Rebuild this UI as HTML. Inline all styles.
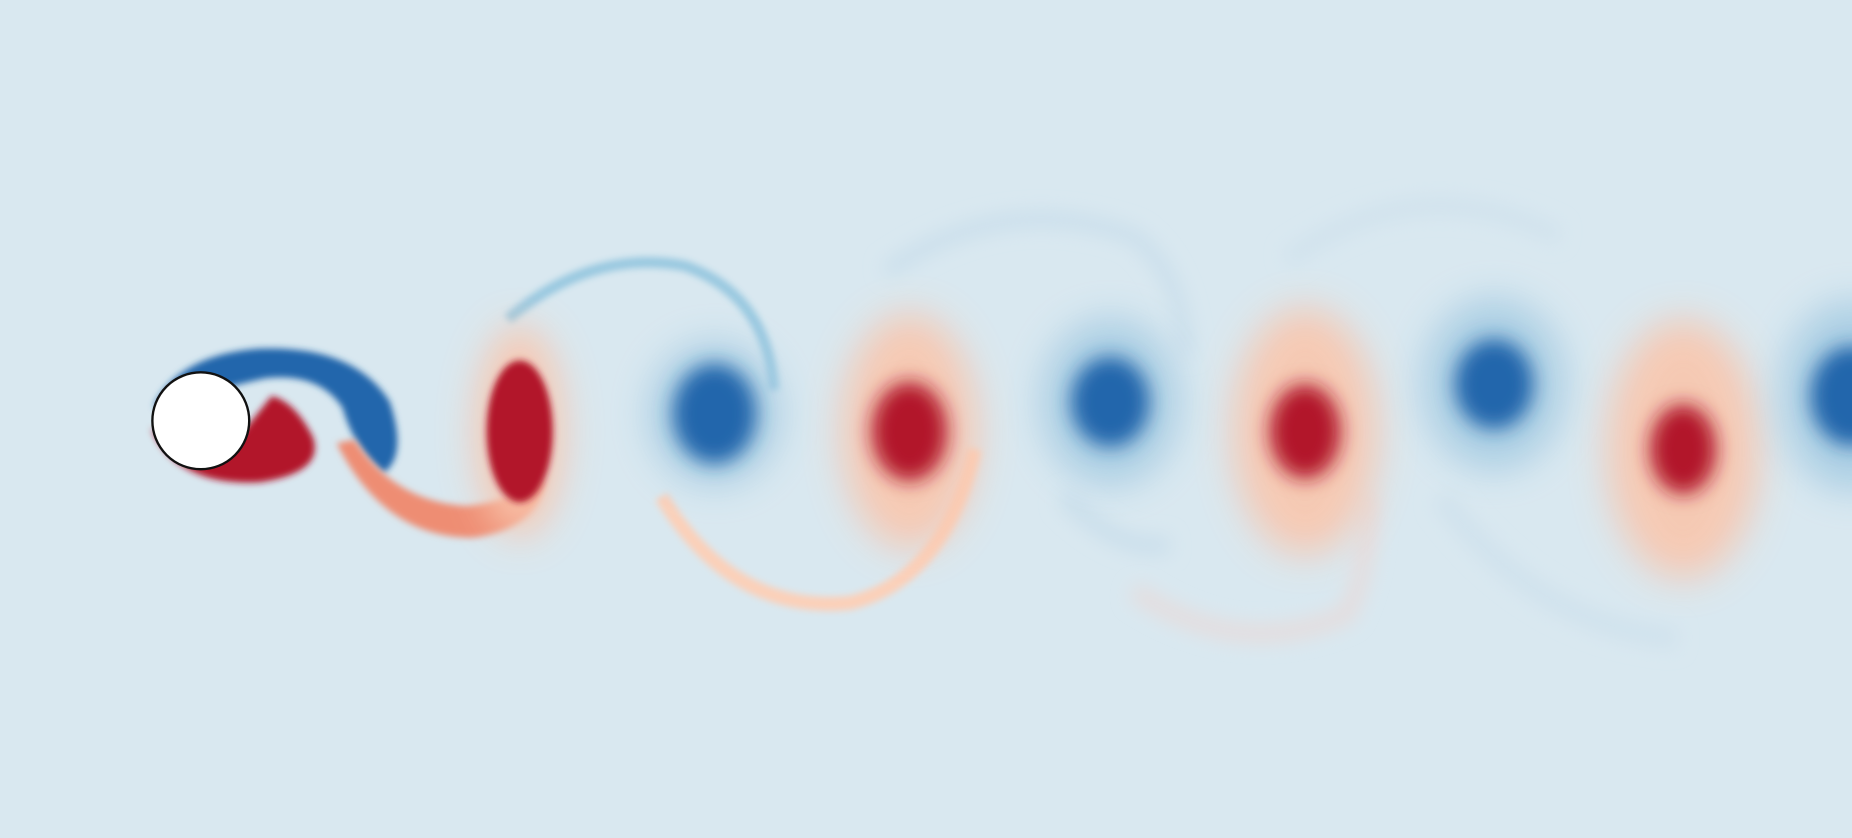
<!DOCTYPE html>
<html><head><meta charset="utf-8"><style>
html,body{margin:0;padding:0;background:#d9e8f0;}
svg{display:block;}
</style></head><body>
<svg id="field" width="1852" height="838" viewBox="0 0 1568 709" preserveAspectRatio="none" xmlns="http://www.w3.org/2000/svg">
<defs>
<filter id="b1" x="-50%" y="-50%" width="200%" height="200%"><feGaussianBlur stdDeviation="3"/></filter>
<filter id="b2" x="-50%" y="-50%" width="200%" height="200%"><feGaussianBlur stdDeviation="8"/></filter>
<filter id="b3" x="-50%" y="-50%" width="200%" height="200%"><feGaussianBlur stdDeviation="16"/></filter>
</defs>
<rect x="0" y="0" width="1568" height="709" fill="#d9e8f0"/>
<g id="arcs">
<path d="M430,270 Q500,210 580,225 Q650,250 655,330" fill="none" stroke="#92c5de" stroke-width="9" filter="url(#b1)" opacity="0.9"/>
<path d="M560,420 Q620,520 720,510 Q800,490 825,380" fill="none" stroke="#fbd0b9" stroke-width="12" filter="url(#b1)"/>
<path d="M750,230 Q850,160 960,200 Q1000,230 1005,300" fill="none" stroke="#c9deeb" stroke-width="12" filter="url(#b2)"/>
<path d="M900,420 Q950,470 990,460" fill="none" stroke="#c9deeb" stroke-width="14" filter="url(#b2)"/>
<path d="M960,500 Q1050,560 1140,520 Q1160,480 1160,420" fill="none" stroke="#e6dcdc" stroke-width="14" filter="url(#b2)"/>
<path d="M1090,220 Q1200,140 1320,200" fill="none" stroke="#d0e2ed" stroke-width="14" filter="url(#b2)"/>
<path d="M1220,420 Q1300,530 1420,540" fill="none" stroke="#d0e2ed" stroke-width="18" filter="url(#b2)"/>
</g>
<g id="wake">
<path d="M130,345 Q150,300 220,295 Q300,292 330,340 Q345,385 325,400 Q300,380 290,345 Q270,315 225,320 Q200,325 130,345Z" fill="#2166ac" filter="url(#b1)"/>
<path d="M128,362 Q150,412 220,408 Q275,400 265,370 Q250,340 230,335 L210,360 Q180,400 128,362Z" fill="#b2182b" filter="url(#b1)"/>
<path d="M285,375 Q325,455 400,455 Q455,448 462,405 Q430,425 395,428 Q335,425 300,372Z" fill="#ee8d73" filter="url(#b1)"/>
</g>
<g id="vortices"></g>
<circle cx="170" cy="356" r="41" fill="#ffffff" stroke="#111" stroke-width="2"/>
</svg>
<script>
const vortexX = [440, 605, 770, 940, 1105, 1265, 1425, 1568];
const vortexY = [365, 350, 365, 340, 365, 325, 380, 335];
const coreRx = [28, 35, 32, 33, 30, 33, 28, 35];
const coreRy = [60, 42, 42, 38, 40, 38, 38, 42];
const haloRx = [38, 55, 58, 58, 62, 60, 65, 60];
const haloRy = [90, 60, 100, 70, 105, 72, 110, 80];
const vortexSign = [1, -1, 1, -1, 1, -1, 1, -1];
const g = document.getElementById('vortices');
const NS = 'http://www.w3.org/2000/svg';
for (let i = 0; i < vortexX.length; i++) {
  const pos = vortexSign[i] > 0;
  const halo = document.createElementNS(NS, 'ellipse');
  
  
  halo.setAttribute('cx', vortexX[i]); halo.setAttribute('cy', vortexY[i]);
  halo.setAttribute('rx', haloRx[i]); halo.setAttribute('ry', haloRy[i]);
  halo.setAttribute('fill', pos ? '#f9c6ad' : '#a4cbe2');
  halo.setAttribute('opacity', '0.9');
  halo.setAttribute('filter', 'url(#b3)');
  g.appendChild(halo);
  const core = document.createElementNS(NS, 'ellipse');
  
  
  core.setAttribute('cx', vortexX[i]); core.setAttribute('cy', vortexY[i]);
  core.setAttribute('rx', coreRx[i]); core.setAttribute('ry', coreRy[i]);
  core.setAttribute('fill', pos ? '#b2182b' : '#2166ac');
  core.setAttribute('filter', i === 0 ? 'url(#b1)' : 'url(#b2)');
  g.appendChild(core);
}
</script>
</body></html>
